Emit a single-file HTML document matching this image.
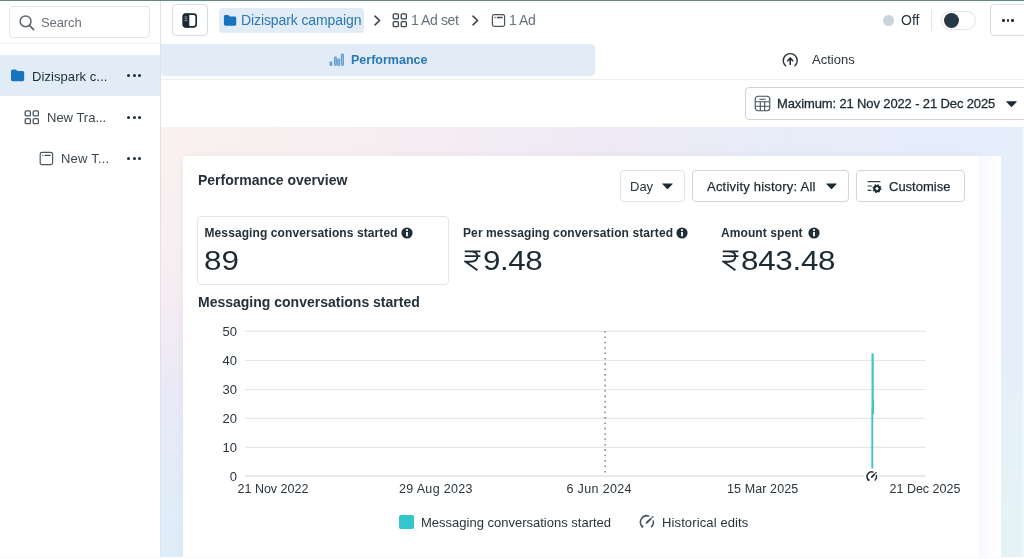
<!DOCTYPE html>
<html>
<head>
<meta charset="utf-8">
<title>Ads Manager</title>
<style>
*{box-sizing:border-box;margin:0;padding:0}
html,body{width:1024px;height:559px;overflow:hidden;background:#fff}
body{font-family:"Liberation Sans",sans-serif;color:#1c2b33;position:relative;font-size:13px}
.abs{position:absolute}
.t{position:absolute;white-space:nowrap;line-height:1;will-change:opacity}
.topline{left:0;top:0;width:1024px;height:3px;background:linear-gradient(to bottom,#6c8583 0,#6c8583 1px,#f1fbfb 1px,#fbffff 3px)}
/* sidebar */
.sidebar{left:0;top:1px;width:160px;height:558px;background:#fff}
.sideborder{left:160px;top:1px;width:1px;height:558px;background:#dfe2e6}
.search{left:9px;top:6px;width:141px;height:32px;border:1px solid #e3e6e9;border-radius:4px;background:#fff}
.sidesep{left:0;top:43px;width:160px;height:1px;background:#f1f2f4}
.row1{left:0;top:55px;width:160px;height:41px;background:#e1ecf6}
.dots span{position:absolute;width:3.2px;height:3.2px;border-radius:50%;background:#1c2b33;top:0}
/* top bar */
.btn{position:absolute;border:1px solid #d8dce0;border-radius:4px;background:#fff}
.chip{left:219px;top:8px;width:145px;height:25px;border-radius:4px;background:#e1ecf6}
.tabsel{left:161px;top:44px;width:434px;height:32px;border-radius:0 4px 4px 4px;background:#e1ecf6}
.hsep{left:161px;top:79px;width:863px;height:1px;background:#eceef0}
/* content bg */
.bg{left:161px;top:127px;width:863px;height:430px;background:linear-gradient(to right,#faf1f0 0%,#f6eef1 25%,#efeaf5 50%,#e8ecf9 72%,#e5eefb 100%)}
.bgl{left:161px;top:150px;width:30px;height:407px;background:linear-gradient(to bottom,#faf1f0 0%,#f6eef1 30%,#f1ebf4 45%,#eae9f7 60%,#e2ecf9 82%,#dfedf9 100%)}
.bgr{left:995px;top:150px;width:29px;height:407px;background:linear-gradient(to bottom,#e5eefb 0%,#e5eefa 45%,#e5f1f8 75%,#e5f3f5 100%)}
.card{left:183px;top:156px;width:796px;height:403px;background:#fff;border-radius:4px 0 0 0;box-shadow:0 0 9px rgba(110,95,110,0.075)}
.strip{left:979px;top:156px;width:22px;height:403px;background:linear-gradient(to right,#f5f7fd 0%,#fbfcff 50%,#ffffff 100%)}
.edge{left:1022px;top:127px;width:2px;height:430px;background:#f1f6fc}
.bottomline{left:0;top:557px;width:1024px;height:2px;background:#fcfcfc}
.metricbox{left:197px;top:216px;width:252px;height:69px;border:1px solid #e3e6ea;border-radius:4px;background:#fff}
</style>
</head>
<body>
<div class="abs topline"></div>

<!-- ============ SIDEBAR ============ -->
<div class="abs sidebar"></div>
<div class="abs sideborder"></div>
<div class="abs search"></div>
<svg class="abs" style="left:18px;top:14px" width="18" height="18" viewBox="0 0 18 18"><circle cx="7.6" cy="7.3" r="5.4" fill="none" stroke="#5f666d" stroke-width="1.5"/><path d="M11.5 11.4 L15.6 15.6" stroke="#5f666d" stroke-width="1.7" stroke-linecap="round"/></svg>
<span class="t" id="t_search" style="left:41px;top:15.5px;font-size:13px;color:#6a7178;letter-spacing:-0.1px">Search</span>
<div class="abs sidesep"></div>

<div class="abs row1"></div>
<svg class="abs" style="left:10px;top:69px" width="15" height="13" viewBox="0 0 15 13"><path d="M1 2.2 Q1 0.6 2.6 0.6 H5.4 Q6.2 0.6 6.7 1.3 L7.3 2.1 H12.6 Q14.2 2.1 14.2 3.7 V10.6 Q14.2 12.2 12.6 12.2 H2.6 Q1 12.2 1 10.6 Z" fill="#1873be"/></svg>
<span class="t" id="t_side1" style="left:32px;top:70px;font-size:13px;color:#1c2b33;letter-spacing:0.08px">Dizispark c...</span>
<div class="abs dots" style="left:127px;top:74px;width:15px;height:4px"><span style="left:0.2px"></span><span style="left:5.5px"></span><span style="left:10.8px"></span></div>

<svg class="abs" style="left:24px;top:110px" width="16" height="15" viewBox="0 0 16 15"><g fill="none" stroke="#4b5560" stroke-width="1.3"><rect x="1.2" y="0.9" width="5.2" height="5" rx="1.2"/><rect x="9.2" y="0.9" width="5.2" height="5" rx="1.2"/><rect x="1.2" y="8.6" width="5.2" height="5" rx="1.2"/><rect x="9.2" y="8.6" width="5.2" height="5" rx="1.2"/></g></svg>
<span class="t" id="t_side2" style="left:47px;top:111px;font-size:13px;color:#3c4650">New Tra...</span>
<div class="abs dots" style="left:127px;top:116px;width:15px;height:4px"><span style="left:0.2px"></span><span style="left:5.5px"></span><span style="left:10.8px"></span></div>

<svg class="abs" style="left:39px;top:151px" width="15" height="15" viewBox="0 0 15 15"><rect x="1.2" y="1.4" width="12.4" height="12.2" rx="1.8" fill="none" stroke="#4b5560" stroke-width="1.2"/><path d="M3.2 4.3 H4.3 M5.6 4.3 H11.6" stroke="#414b55" stroke-width="1.35"/></svg>
<span class="t" id="t_side3" style="left:61px;top:152px;font-size:13px;color:#3c4650;letter-spacing:0.2px">New T...</span>
<div class="abs dots" style="left:127px;top:157px;width:15px;height:4px"><span style="left:0.2px"></span><span style="left:5.5px"></span><span style="left:10.8px"></span></div>

<!-- ============ TOP BAR ============ -->
<div class="btn" style="left:172px;top:4px;width:36px;height:32px"></div>
<svg class="abs" style="left:182px;top:13px" width="16" height="15" viewBox="0 0 16 15"><rect x="1.4" y="1.2" width="12.8" height="12.6" rx="2.6" fill="none" stroke="#1c2b33" stroke-width="1.7"/><path d="M3.4 0.6 H7.3 V14.4 H3.4 Q0.6 14.4 0.6 11.6 V3.4 Q0.6 0.6 3.4 0.6 Z" fill="#1c2b33"/><path d="M2.6 3.8 H5.2 M2.6 5.7 H5.2 M2.6 7.6 H5.2" stroke="#9aa5ad" stroke-width="0.9"/></svg>

<div class="abs chip"></div>
<svg class="abs" style="left:223px;top:14px" width="14" height="13" viewBox="0 0 15 13"><path d="M1 2.2 Q1 0.6 2.6 0.6 H5.4 Q6.2 0.6 6.7 1.3 L7.3 2.1 H12.6 Q14.2 2.1 14.2 3.7 V10.6 Q14.2 12.2 12.6 12.2 H2.6 Q1 12.2 1 10.6 Z" fill="#1873be"/></svg>
<span class="t" id="t_bc1" style="left:241px;top:13.3px;font-size:14px;color:#2a78b4;letter-spacing:-0.1px">Dizispark campaign</span>
<svg class="abs" style="left:373px;top:15px" width="9" height="11" viewBox="0 0 9 11"><path d="M2 1.2 L6.6 5.5 L2 9.8" fill="none" stroke="#39434c" stroke-width="1.6" stroke-linecap="round" stroke-linejoin="round"/></svg>
<svg class="abs" style="left:392px;top:13px" width="16" height="15" viewBox="0 0 16 15"><g fill="none" stroke="#39434c" stroke-width="1.3"><rect x="1.2" y="0.9" width="5.2" height="5" rx="1.2"/><rect x="9.2" y="0.9" width="5.2" height="5" rx="1.2"/><rect x="1.2" y="8.6" width="5.2" height="5" rx="1.2"/><rect x="9.2" y="8.6" width="5.2" height="5" rx="1.2"/></g></svg>
<span class="t" id="t_bc2" style="left:411px;top:13.3px;font-size:14px;color:#68707a;letter-spacing:-0.4px">1 Ad set</span>
<svg class="abs" style="left:471px;top:15px" width="9" height="11" viewBox="0 0 9 11"><path d="M2 1.2 L6.6 5.5 L2 9.8" fill="none" stroke="#39434c" stroke-width="1.6" stroke-linecap="round" stroke-linejoin="round"/></svg>
<svg class="abs" style="left:491px;top:13px" width="15" height="15" viewBox="0 0 15 15"><rect x="1.4" y="1.6" width="12.2" height="11.8" rx="1.8" fill="none" stroke="#4b5560" stroke-width="1.2"/><path d="M3.4 4.5 H4.5 M5.8 4.5 H11.6" stroke="#414b55" stroke-width="1.35"/></svg>
<span class="t" id="t_bc3" style="left:509px;top:13.3px;font-size:14px;color:#68707a;letter-spacing:-0.45px">1 Ad</span>

<div class="abs" style="left:883px;top:15px;width:11px;height:11px;border-radius:50%;background:#cbd3dc"></div>
<span class="t" id="t_off" style="left:901px;top:13px;font-size:14px;color:#2a343c">Off</span>
<div class="abs" style="left:931px;top:10px;width:1px;height:21px;background:#e3e5e8"></div>
<div class="abs" style="left:941px;top:11px;width:35px;height:19px;border-radius:10px;border:1px solid #e2e5e9;background:#fff"></div>
<div class="abs" style="left:944px;top:13px;width:15px;height:15px;border-radius:50%;background:#263844"></div>
<div class="btn" style="left:990px;top:4px;width:40px;height:32px"></div>
<div class="abs dots" style="left:1002px;top:19px;width:13px;height:3px"><span style="left:0;width:2.6px;height:2.6px"></span><span style="left:4.7px;width:2.6px;height:2.6px"></span><span style="left:9.4px;width:2.6px;height:2.6px"></span></div>

<!-- ============ TABS ============ -->
<div class="abs tabsel"></div>
<svg class="abs" style="left:329px;top:53px" width="16" height="14" viewBox="0 0 16 14"><g fill="#9cc3e6" stroke="#4a8fca" stroke-width="0.9"><rect x="1" y="8.9" width="1.9" height="3.5" rx="0.4"/><rect x="5.6" y="3.9" width="1.7" height="8.5" rx="0.5"/><rect x="8.7" y="5.8" width="1.9" height="6.6" rx="0.5"/><rect x="12.4" y="0.9" width="2" height="11.5" rx="0.6"/></g></svg>
<span class="t" id="t_perf" style="left:351px;top:54px;font-size:12.5px;font-weight:bold;color:#2a78b4">Performance</span>
<svg class="abs" style="left:782px;top:52px" width="17" height="17" viewBox="0 0 17 17"><path d="M3.5 13.8 A7 7 0 1 1 13 13.8" fill="none" stroke="#2a343c" stroke-width="1.4" stroke-linecap="round"/><path d="M8.25 12.4 V6.6 M5.7 8.7 L8.25 6.1 L10.8 8.7" fill="none" stroke="#1c2b33" stroke-width="1.5" stroke-linecap="round" stroke-linejoin="round"/></svg>
<span class="t" id="t_actions" style="left:812px;top:53px;font-size:13px;color:#2a343c">Actions</span>
<div class="abs hsep"></div>

<!-- ============ DATE PICKER ============ -->
<div class="btn" style="left:745px;top:87px;width:290px;height:33px;border-color:#cfd3d8"></div>
<svg class="abs" style="left:754px;top:95px" width="17" height="17" viewBox="0 0 17 17"><g fill="none" stroke="#454f59" stroke-width="1.1"><rect x="1.2" y="1.2" width="14.6" height="14.6" rx="3"/><path d="M1.2 6.7 H15.8 M1.2 11.3 H15.8 M6.3 6.7 V15.8 M10.7 6.7 V15.8 M5.4 4.2 H11.7"/></g></svg>
<span class="t" id="t_date" style="left:777px;top:97px;font-size:13px;color:#1c2b33;-webkit-text-stroke:0.3px #1c2b33;letter-spacing:-0.13px">Maximum: 21 Nov 2022 - 21 Dec 2025</span>
<svg class="abs" style="left:1005px;top:100px" width="13" height="8" viewBox="0 0 13 8"><path d="M1.6 1.2 H11.4 Q12.2 1.2 11.6 1.9 L7.2 6.6 Q6.5 7.2 5.8 6.6 L1.4 1.9 Q0.8 1.2 1.6 1.2 Z" fill="#1c2b33"/></svg>

<!-- ============ CONTENT ============ -->
<div class="abs bg"></div>
<div class="abs bgl"></div>
<div class="abs bgr"></div>
<div class="abs edge"></div>
<div class="abs card"></div>
<div class="abs strip"></div>
<div class="abs bottomline"></div>

<span class="t" id="t_title" style="left:198px;top:173px;font-size:14px;font-weight:bold;color:#24313a">Performance overview</span>

<div class="btn" style="left:620px;top:170px;width:65px;height:32px;border-color:#e0e3e7"></div>
<span class="t" id="t_day" style="left:630px;top:180px;font-size:13px;color:#2a343c">Day</span>
<svg class="abs" style="left:661px;top:182.4px" width="13" height="8.6" viewBox="0 0 13 8.2"><path d="M1.6 1.2 H11.4 Q12.2 1.2 11.6 1.9 L7.2 6.6 Q6.5 7.2 5.8 6.6 L1.4 1.9 Q0.8 1.2 1.6 1.2 Z" fill="#1c2b33"/></svg>

<div class="btn" style="left:692px;top:170px;width:157px;height:32px;border-color:#d2d6db"></div>
<span class="t" id="t_act" style="left:707px;top:180px;font-size:13px;color:#1c2b33;-webkit-text-stroke:0.25px #1c2b33;letter-spacing:0.22px">Activity history: All</span>
<svg class="abs" style="left:825px;top:182.4px" width="13" height="8.6" viewBox="0 0 13 8.2"><path d="M1.6 1.2 H11.4 Q12.2 1.2 11.6 1.9 L7.2 6.6 Q6.5 7.2 5.8 6.6 L1.4 1.9 Q0.8 1.2 1.6 1.2 Z" fill="#1c2b33"/></svg>

<div class="btn" style="left:856px;top:170px;width:109px;height:32px;border-color:#d2d6db"></div>
<svg class="abs" style="left:867px;top:180px" width="15" height="13" viewBox="0 0 15 13"><path d="M0.6 1.6 H13.4 M0.6 6 H5.2 M0.6 10.4 H4.4" stroke="#39434c" stroke-width="1.2" fill="none"/><circle cx="10" cy="8.6" r="2.6" fill="none" stroke="#1c2b33" stroke-width="2.2"/><circle cx="10" cy="8.6" r="3.9" fill="none" stroke="#1c2b33" stroke-width="1.2" stroke-dasharray="1.5 1.56"/></svg>
<span class="t" id="t_cust" style="left:889px;top:180px;font-size:13px;color:#1c2b33;-webkit-text-stroke:0.25px #1c2b33">Customise</span>

<!-- metrics -->
<div class="abs metricbox"></div>
<span class="t" id="t_m1" style="left:204.5px;top:227px;font-size:12px;font-weight:bold;color:#24313a;letter-spacing:0.1px">Messaging conversations started</span>
<svg class="abs info" style="left:401px;top:227px" width="12" height="12" viewBox="0 0 12 12"><circle cx="6" cy="6" r="5.6" fill="#1f2e37"/><rect x="5.1" y="5" width="1.8" height="4.3" fill="#fff"/><circle cx="6" cy="3.1" r="1.05" fill="#fff"/></svg>
<span class="t" id="t_v1" style="left:204px;top:247px;font-size:28px;color:#1c2b33;transform:scaleX(1.12);transform-origin:0 0">89</span>

<span class="t" id="t_m2" style="left:463px;top:227px;font-size:12px;font-weight:bold;color:#24313a;letter-spacing:0.1px">Per messaging conversation started</span>
<svg class="abs info" style="left:676px;top:227px" width="12" height="12" viewBox="0 0 12 12"><circle cx="6" cy="6" r="5.6" fill="#1f2e37"/><rect x="5.1" y="5" width="1.8" height="4.3" fill="#fff"/><circle cx="6" cy="3.1" r="1.05" fill="#fff"/></svg>
<svg class="abs rupee" style="left:463.5px;top:250px" width="17" height="22" viewBox="0 0 17 22"><path d="M0.8 1.4 H16.4 M0.8 6.1 H16.4 M0.8 1.4 H6 Q13.4 1.4 13.4 6.5 Q13.4 11.8 6 11.8 H1.6 L13.4 20.3" fill="none" stroke="#1c2b33" stroke-width="1.9" stroke-linejoin="miter"/></svg>
<span class="t" id="t_v2" style="left:483px;top:247px;font-size:28px;color:#1c2b33;transform:scaleX(1.12);transform-origin:0 0;letter-spacing:-0.4px">9.48</span>

<span class="t" id="t_m3" style="left:721px;top:227px;font-size:12px;font-weight:bold;color:#24313a;letter-spacing:0.08px">Amount spent</span>
<svg class="abs info" style="left:808px;top:227px" width="12" height="12" viewBox="0 0 12 12"><circle cx="6" cy="6" r="5.6" fill="#1f2e37"/><rect x="5.1" y="5" width="1.8" height="4.3" fill="#fff"/><circle cx="6" cy="3.1" r="1.05" fill="#fff"/></svg>
<svg class="abs rupee" style="left:722px;top:250px" width="17" height="22" viewBox="0 0 17 22"><path d="M0.8 1.4 H16.4 M0.8 6.1 H16.4 M0.8 1.4 H6 Q13.4 1.4 13.4 6.5 Q13.4 11.8 6 11.8 H1.6 L13.4 20.3" fill="none" stroke="#1c2b33" stroke-width="1.9" stroke-linejoin="miter"/></svg>
<span class="t" id="t_v3" style="left:741px;top:247px;font-size:28px;color:#1c2b33;transform:scaleX(1.12);transform-origin:0 0;letter-spacing:-0.25px">843.48</span>

<!-- chart -->
<span class="t" id="t_ctitle" style="left:198px;top:295px;font-size:14px;font-weight:bold;color:#24313a">Messaging conversations started</span>

<svg class="abs" style="left:182px;top:320px" width="797" height="175" viewBox="182 320 797 175">
  <g stroke="#e4e6e9" stroke-width="1.2">
    <path d="M245 331.4 H925.5 M245 360.5 H925.5 M245 389.5 H925.5 M245 418.4 H925.5 M245 447.3 H925.5"/>
  </g>
  <path d="M245 476 H925.5" stroke="#dfe2e5" stroke-width="1.3"/>
  <path d="M605.2 331 V474" stroke="#8a8e93" stroke-width="1.6" stroke-dasharray="1.6 3.78"/>
  <path d="M872.6 353.4 V408" fill="none" stroke="#41c2c9" stroke-width="2.2"/><path d="M873.3 400 V414" stroke="#41c2c9" stroke-width="1.6"/><path d="M872.3 408 V468.4" fill="none" stroke="#41c2c9" stroke-width="1.9"/>
</svg>
<svg class="abs" style="left:864px;top:469px" width="16" height="16" viewBox="0 0 16 16"><circle cx="7.9" cy="7.7" r="7.2" fill="#fff"/><g fill="none" stroke="#1c2b33" stroke-linecap="round"><path d="M4.5 11 A4.7 4.7 0 0 1 9.1 3.1" stroke-width="1.5"/><path d="M12.5 6.8 A4.7 4.7 0 0 1 11.2 11" stroke-width="1.5"/><path d="M7.7 8.1 L10.4 5.4" stroke-width="1.7"/><path d="M10.4 5.4 L11.9 3.9" stroke-width="0.9"/></g><circle cx="4.5" cy="10.9" r="1.05" fill="#1c2b33"/><circle cx="12" cy="3.7" r="0.7" fill="#1c2b33"/></svg>

<span class="t yl" id="t_y50" style="left:207px;width:30px;text-align:right;top:325px;font-size:13px;color:#2a343c">50</span>
<span class="t yl" id="t_y40" style="left:207px;width:30px;text-align:right;top:354px;font-size:13px;color:#2a343c">40</span>
<span class="t yl" id="t_y30" style="left:207px;width:30px;text-align:right;top:383px;font-size:13px;color:#2a343c">30</span>
<span class="t yl" id="t_y20" style="left:207px;width:30px;text-align:right;top:412px;font-size:13px;color:#2a343c">20</span>
<span class="t yl" id="t_y10" style="left:207px;width:30px;text-align:right;top:441px;font-size:13px;color:#2a343c">10</span>
<span class="t yl" id="t_y0" style="left:207px;width:30px;text-align:right;top:470px;font-size:13px;color:#2a343c">0</span>

<span class="t" id="t_x1" style="left:237.5px;top:483px;font-size:12.5px;color:#2a343c">21 Nov 2022</span>
<span class="t" id="t_x2" style="left:399px;top:483px;font-size:12.5px;color:#2a343c;letter-spacing:0.33px">29 Aug 2023</span>
<span class="t" id="t_x3" style="left:566.5px;top:483px;font-size:12.5px;color:#2a343c;letter-spacing:0.35px">6 Jun 2024</span>
<span class="t" id="t_x4" style="left:727px;top:483px;font-size:12.5px;color:#2a343c;letter-spacing:0.1px">15 Mar 2025</span>
<span class="t" id="t_x5" style="left:889.5px;top:483px;font-size:12.5px;color:#2a343c">21 Dec 2025</span>

<div class="abs" style="left:399px;top:515px;width:15px;height:14px;border-radius:2px;background:#33c6ca"></div>
<span class="t" id="t_l1" style="left:421px;top:515.5px;font-size:13px;color:#2a343c">Messaging conversations started</span>
<svg class="abs" style="left:639px;top:514px" width="17" height="16" viewBox="0 0 17 16"><g fill="none" stroke="#46515a" stroke-linecap="round"><path d="M3.3 12.7 A6.5 6.5 0 0 1 9.6 1.9" stroke-width="1.5"/><path d="M14.3 7.1 A6.5 6.5 0 0 1 12.5 12.8" stroke-width="1.5"/><path d="M7.7 8.8 L11.5 5.1" stroke-width="1.9"/><path d="M11.5 5.1 L13.7 2.8" stroke-width="1"/></g><circle cx="3.3" cy="12.6" r="1.15" fill="#46515a"/><circle cx="13.8" cy="2.7" r="0.8" fill="#46515a"/></svg>
<span class="t" id="t_l2" style="left:662px;top:515.5px;font-size:13px;color:#2a343c;letter-spacing:0.12px">Historical edits</span>

</body>
</html>
